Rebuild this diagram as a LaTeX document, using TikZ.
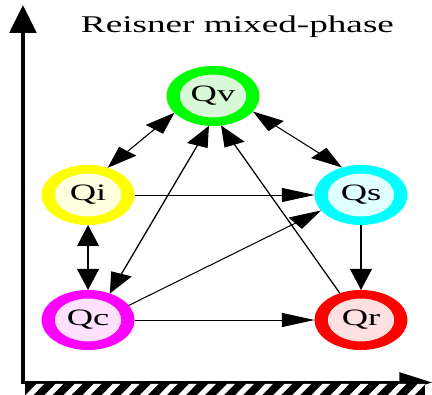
\documentclass[tikz,border=0pt]{standalone}
\usepackage{fontspec}
\setmainfont{Liberation Serif}
\usetikzlibrary{arrows.meta}
\definecolor{vring}{RGB}{0,255,0}
\definecolor{vfill}{RGB}{216,250,216}
\definecolor{iring}{RGB}{255,255,0}
\definecolor{ifill}{RGB}{255,255,224}
\definecolor{sring}{RGB}{0,255,255}
\definecolor{sfill}{RGB}{224,255,255}
\definecolor{cring}{RGB}{255,0,255}
\definecolor{cfill}{RGB}{255,224,255}
\definecolor{rring}{RGB}{255,0,0}
\definecolor{rfill}{RGB}{255,224,224}
\begin{document}
\begin{tikzpicture}[x=1pt,y=1pt,
  state/.style={circle, line width=8.5pt, minimum size=51.5pt, inner sep=0pt,
    font=\fontsize{23.5}{23.5}\selectfont},
  link/.style={line width=0.9pt, -{Triangle[length=21pt,width=14pt]}},
  both/.style={line width=0.9pt,
    {Triangle[length=21pt,width=14pt]}-{Triangle[length=21pt,width=14pt]}},
  axis/.style={line width=2.8pt,
    {Triangle[length=28pt,width=17pt]}-{Triangle[length=21pt,width=20pt]}}]
\useasboundingbox (0,0) rectangle (432,395);
\begin{scope}[transform canvas={xscale=1.55}]
  % title
  \node[font=\fontsize{24}{24}\selectfont, anchor=base, inner sep=0pt]
    (title) at (153.2,362) {Reisner mixed-phase};

  % axes
  \coordinate (ytop) at (14.8,390);
  \coordinate (o) at (14.8,12.5);
  \coordinate (xend) at (278.7,12.5);
  \draw[axis, line join=miter] (ytop) -- (o) -- (xend);

  % hatched ground bar
  \begin{scope}
    \clip (16.1,0) rectangle (274.2,11);
    \fill[black] (16.1,0) rectangle (274.2,11);
    \foreach \i in {0,...,22}
      \fill[white] ({16.5+12.3*\i},0) -- ++(5,0) -- ++(7,11) -- ++(-5,0) -- cycle;
  \end{scope}

  % species
  \node[state, draw=vring, fill=vfill] (Qv) at (137.4,299) {Qv};
  \node[state, draw=iring, fill=ifill] (Qi) at (56.8,200) {Qi};
  \node[state, draw=sring, fill=sfill] (Qs) at (232.9,200) {Qs};
  \node[state, draw=cring, fill=cfill] (Qc) at (56.8,75) {Qc};
  \node[state, draw=rring, fill=rfill] (Qr) at (232.9,75) {Qr};

  % conversions
  \draw[both] (Qi.65) -- (Qv.214);
  \draw[both] (Qv.-31) -- (Qs.114);
  \draw[link] (Qi.east) -- (Qs.west);
  \draw[both] (Qi.south) -- (Qc.north);
  \draw[both] (Qc.62) -- (Qv.265);
  \draw[link] (Qr.117) -- (Qv.280);
  \draw[link] (Qc.29) -- (Qs.211);
  \draw[link] (Qs.south) -- (Qr.north);
  \draw[link] (Qc.east) -- (Qr.west);
\end{scope}
\end{tikzpicture}
\end{document}
